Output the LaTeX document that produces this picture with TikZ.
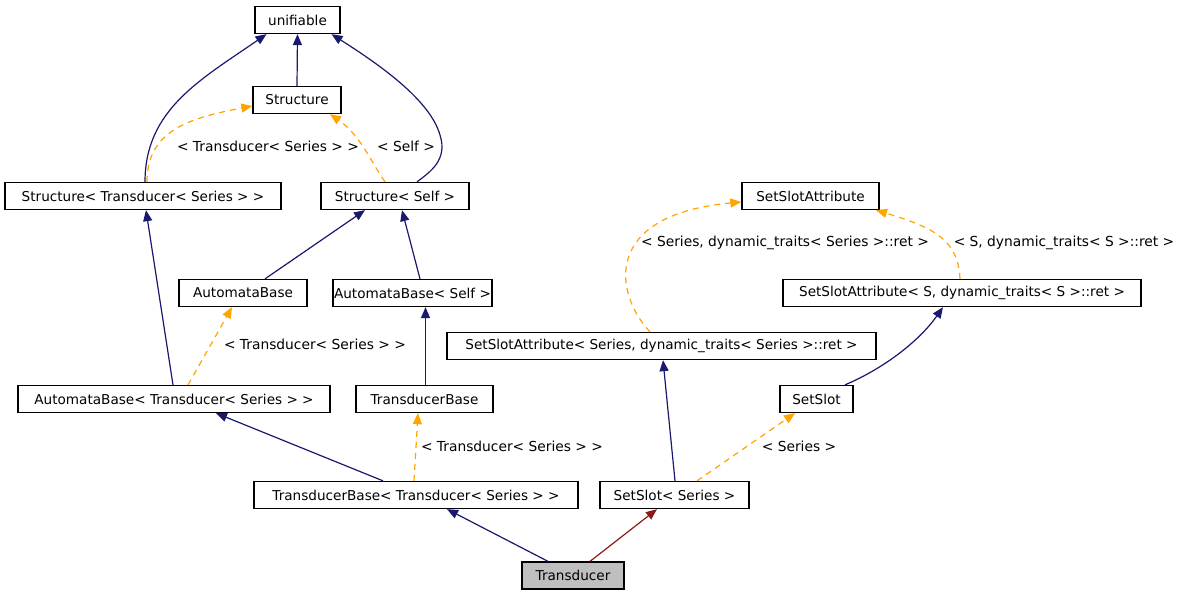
\documentclass[tikz,border=0pt]{standalone}
\usepackage{fontspec}
\setmainfont{DejaVu Sans}
\usetikzlibrary{arrows.meta}
\definecolor{navy}{HTML}{191970}
\definecolor{orng}{HTML}{FFA500}
\definecolor{fbrick}{HTML}{8B1A1A}
\definecolor{grayfill}{HTML}{BFBFBF}
\begin{document}
\begin{tikzpicture}[x=1pt,y=-1pt,
  cls/.style={draw=black, line width=1.3pt, fill=white, minimum height=27pt, inner sep=0pt, font=\fontsize{13.6}{16}\selectfont},
  lbl/.style={font=\fontsize{13.8}{16}\selectfont, inner sep=0pt},
  inh/.style={draw=navy, line width=1.2pt, -{Triangle[length=11pt,width=9pt,fill=navy]}},
  tpl/.style={draw=orng, line width=1.2pt, dash pattern=on 6pt off 5pt, -{Triangle[length=11pt,width=9pt,fill=orng]}},
  prv/.style={draw=fbrick, line width=1.2pt, -{Triangle[length=11pt,width=9pt,fill=fbrick]}}]
\useasboundingbox[fill=white] (0,0) rectangle (1182,594);

\node[cls, minimum width=85pt]  (unif)  at (297.5,20)  {unifiable};
\node[cls, minimum width=88pt]  (str)   at (297,100)   {Structure};
\node[cls, minimum width=276pt] (strT)  at (143,196)   {Structure< Transducer< Series > >};
\node[cls, minimum width=148pt] (strS)  at (395,196)   {Structure< Self >};
\node[cls, minimum width=137pt] (ssa)   at (810.5,196) {SetSlotAttribute};
\node[cls, minimum width=128pt] (ab)    at (243,293)   {AutomataBase};
\node[cls, minimum width=159pt] (abS)   at (412.5,293) {AutomataBase< Self >};
\node[cls, minimum width=358pt] (ssaS)  at (962,293)   {SetSlotAttribute< S, dynamic\_traits< S >::ret >};
\node[cls, minimum width=429pt] (ssaSe) at (661.5,346) {SetSlotAttribute< Series, dynamic\_traits< Series >::ret >};
\node[cls, minimum width=312pt] (abT)   at (174,399)   {AutomataBase< Transducer< Series > >};
\node[cls, minimum width=137pt] (tb)    at (424.5,399) {TransducerBase};
\node[cls, minimum width=73pt]  (ss)    at (816.5,399) {SetSlot};
\node[cls, minimum width=324pt] (tbT)   at (416,495)   {TransducerBase< Transducer< Series > >};
\node[cls, minimum width=149pt] (ssSe)  at (674.5,495) {SetSlot< Series >};
\node[cls, minimum width=102pt, fill=grayfill] (tr) at (573,575.5) {Transducer};

% edges
\draw[inh] (str.north) -- (unif.south);
\draw[inh] ([xshift=2pt]strT.north) .. controls (145,110) and (200,80) .. ([xshift=-31pt]unif.south);
\draw[inh] ([xshift=22pt]strS.north) .. controls (430,172) and (448,160) .. (440,135) .. controls (430,100) and (380,65) .. ([xshift=34pt]unif.south);
\draw[tpl] ([xshift=4pt]strT.north) .. controls (147,130) and (190,118) .. ([yshift=-6pt]str.west);
\draw[tpl] ([xshift=-10pt]strS.north) .. controls (370,160) and (360,135) .. ([xshift=33pt]str.south);
\draw[inh] ([xshift=22pt]ab.north) -- ([xshift=-30pt]strS.south);
\draw[inh] ([xshift=7.5pt]abS.north) -- ([xshift=7pt]strS.south);
\draw[inh] ([xshift=-1pt]abT.north) -- ([xshift=3pt]strT.south);
\draw[tpl] ([xshift=14pt]abT.north) -- ([xshift=-11pt]ab.south);
\draw[inh] ([xshift=1pt]tb.north) -- ([xshift=13pt]abS.south);
\draw[inh] ([xshift=-33pt]tbT.north) -- ([xshift=42pt]abT.south);
\draw[tpl] ([xshift=-2pt]tbT.north) -- ([xshift=-6.5pt]tb.south);
\draw[tpl] ([xshift=-2pt]ssaS.north) .. controls (958,240) and (935,228) .. ([xshift=65.5pt]ssa.south);
\draw[tpl] ([xshift=-11.5pt]ssaSe.north) .. controls (615,295) and (600,215) .. ([yshift=-6pt]ssa.west);
\draw[inh] ([xshift=28.5pt]ss.north) .. controls (885,368) and (920,340) .. ([xshift=-19pt]ssaS.south);
\draw[inh] ([xshift=0.5pt]ssSe.north) -- ([xshift=1.5pt]ssaSe.south);
\draw[tpl] ([xshift=22.5pt]ssSe.north) -- ([xshift=-21.5pt]ss.south);
\draw[inh] ([xshift=-25pt]tr.north) -- ([xshift=31pt]tbT.south);
\draw[prv] ([xshift=17pt]tr.north) -- ([xshift=-17.5pt]ssSe.south);

% labels
\node[lbl] (l1) at (268,146) {< Transducer< Series > >};
\node[lbl] (l2) at (406,146) {< Self >};
\node[lbl] (l3) at (785,243) {< Series, dynamic\_traits< Series >::ret >};
\node[lbl] (l4) at (1064,243) {< S, dynamic\_traits< S >::ret >};
\node[lbl] (l5) at (315,344) {< Transducer< Series > >};
\node[lbl] (l6) at (512,446) {< Transducer< Series > >};
\node[lbl] (l7) at (799,446) {< Series >};
\end{tikzpicture}
\end{document}
